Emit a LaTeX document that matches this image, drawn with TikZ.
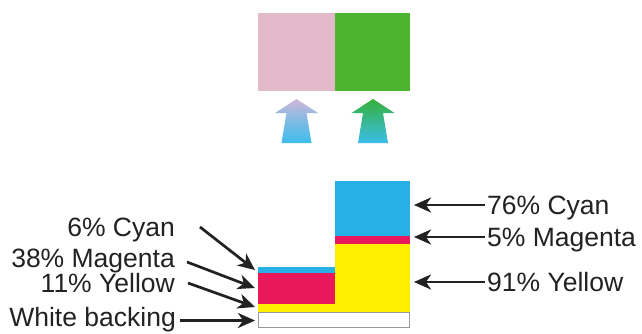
\documentclass[tikz,border=0pt]{standalone}
\usepackage{fontspec}
\setmainfont{Liberation Sans}
\usetikzlibrary{arrows.meta}
\definecolor{cy}{RGB}{38,176,230}
\definecolor{mg}{RGB}{232,24,90}
\definecolor{ye}{RGB}{255,238,0}
\definecolor{pk}{RGB}{226,186,202}
\definecolor{gr}{RGB}{76,180,46}
\definecolor{txt}{RGB}{34,34,34}
\definecolor{lav}{RGB}{208,182,218}
\definecolor{acy}{RGB}{60,190,236}
\definecolor{agr}{RGB}{52,176,56}
\begin{document}
\begin{tikzpicture}[x=1pt,y=-1pt,
  lbl/.style={font=\fontsize{26.5}{30}\selectfont, text=txt, inner sep=0pt},
  arr/.style={draw=txt, line width=2.7pt, -{Stealth[length=17pt,width=15pt,inset=5pt]}}]
\useasboundingbox (0,0) rectangle (642,333);
\fill[white] (0,0) rectangle (642,333);
% top swatches
\fill[pk] (258,13) rectangle (334.5,91);
\fill[gr] (334.5,13) rectangle (410,91);
% gradient arrows
\shade[top color=lav, bottom color=acy, middle color=acy!55!lav]
  (296.5,99) -- (318,113) -- (306.5,113) -- (311.5,143) -- (281.5,143) -- (286.5,113) -- (275,113) -- cycle;
\shade[top color=agr, bottom color=acy, middle color=acy!50!agr]
  (373,99) -- (394.5,113) -- (383,113) -- (388,143) -- (358,143) -- (363,113) -- (351.5,113) -- cycle;
% ink layers
\fill[ye] (258,304) rectangle (410,312);
\fill[ye] (334.5,244) rectangle (410,304);
\fill[mg] (334.5,236) rectangle (410,244);
\fill[cy] (334.5,181) rectangle (410,236);
\fill[mg] (258,273) rectangle (334.5,304);
\fill[cy] (258,267) rectangle (334.5,273);
\draw[gray!80, line width=0.8pt, fill=white] (258,312.5) rectangle (409.5,327);
% labels
\node[lbl, anchor=base east] (c6) at (175,236) {6\% Cyan};
\node[lbl, anchor=base east] (m38) at (175,267) {38\% Magenta};
\node[lbl, anchor=base east] (y11) at (175,292) {11\% Yellow};
\node[lbl, anchor=base east] (wb) at (176,326) {White backing};
\node[lbl, anchor=base west] (c76) at (487,214) {76\% Cyan};
\node[lbl, anchor=base west] (m5) at (487,246) {5\% Magenta};
\node[lbl, anchor=base west] (y91) at (487,291) {91\% Yellow};
% arrow ends
\coordinate (s1) at (200,227); \coordinate (t1) at (255,270);
\coordinate (s2) at (187,262); \coordinate (t2) at (255,288);
\coordinate (s3) at (188,283); \coordinate (t3) at (255,307);
\coordinate (s4) at (180,320.5); \coordinate (t4) at (255,320.5);
\coordinate (r1s) at (485,205); \coordinate (r1t) at (414,205);
\coordinate (r2s) at (485,237); \coordinate (r2t) at (414,237);
\coordinate (r3s) at (485,282); \coordinate (r3t) at (414,282);
\draw[arr] (s1) -- (t1);
\draw[arr] (s2) -- (t2);
\draw[arr] (s3) -- (t3);
\draw[arr] (s4) -- (t4);
\draw[arr] (r1s) -- (r1t);
\draw[arr] (r2s) -- (r2t);
\draw[arr] (r3s) -- (r3t);
\end{tikzpicture}
\end{document}
